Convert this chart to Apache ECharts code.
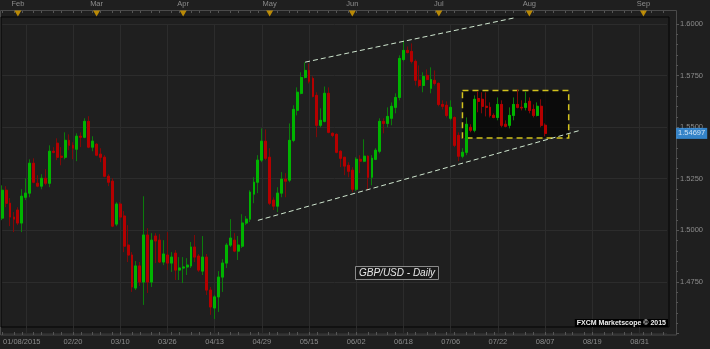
<!DOCTYPE html>
<html><head><meta charset="utf-8">
<script src="https://cdn.jsdelivr.net/npm/echarts@6/dist/echarts.min.js"></script>
<style>html,body{margin:0;padding:0;background:#1f1f1f}#c{width:710px;height:349px}</style>
</head><body><div id="c"></div>
<script>
// ---- data (GBP/USD daily, 27 Jan 2015 .. 07 Aug 2015) ----
const open = [1.5059,1.5194,1.5131,1.5064,1.5098,1.5035,1.5160,1.5180,1.5325,1.5228,1.5214,1.5252,1.5228,1.5383,1.5422,1.5359,1.5354,1.5436,1.5412,1.5393,
1.5456,1.5451,1.5528,1.5403,1.5417,1.5369,1.5354,1.5262,1.5238,1.5030,1.5127,1.5069,1.4928,1.4880,1.4720,1.4827,1.4749,1.4977,1.4749,1.4972,
1.4952,1.4846,1.4880,1.4841,1.4889,1.4807,1.4817,1.4822,1.4827,1.4919,1.4875,1.4802,1.4870,1.4710,1.4623,1.4677,1.4773,1.4841,1.4928,1.4952,
1.4899,1.4923,1.5035,1.5054,1.5175,1.5233,1.5340,1.5432,1.5354,1.5146,1.5117,1.5180,1.5248,1.5243,1.5436,1.5582,1.5664,1.5741,1.5775,1.5736,
1.5654,1.5509,1.5528,1.5664,1.5470,1.5465,1.5383,1.5354,1.5315,1.5291,1.5199,1.5344,1.5335,1.5359,1.5257,1.5344,1.5383,1.5528,1.5518,1.5543,
1.5596,1.5644,1.5828,1.5872,1.5867,1.5819,1.5727,1.5702,1.5751,1.5688,1.5727,1.5712,1.5610,1.5606,1.5543,1.5547,1.5460,1.5359,1.5378,1.5499,
1.5485,1.5639,1.5635,1.5601,1.5596,1.5557,1.5547,1.5610,1.5514,1.5509,1.5557,1.5610,1.5596,1.5596,1.5625,1.5586,1.5557,1.5601,1.5509];
const close = [1.5194,1.5131,1.5064,1.5054,1.5035,1.5165,1.5180,1.5325,1.5233,1.5214,1.5252,1.5228,1.5383,1.5378,1.5354,1.5354,1.5436,1.5412,1.5398,1.5456,
1.5451,1.5528,1.5403,1.5432,1.5364,1.5354,1.5262,1.5233,1.5020,1.5127,1.5064,1.4923,1.4880,1.4725,1.4827,1.4749,1.4977,1.4749,1.4952,1.4948,
1.4846,1.4885,1.4841,1.4870,1.4807,1.4817,1.4822,1.4831,1.4919,1.4870,1.4807,1.4870,1.4710,1.4628,1.4677,1.4773,1.4841,1.4928,1.4962,1.4899,
1.4928,1.5035,1.5054,1.5185,1.5233,1.5340,1.5432,1.5349,1.5131,1.5117,1.5180,1.5248,1.5238,1.5436,1.5586,1.5669,1.5741,1.5775,1.5722,1.5649,
1.5509,1.5533,1.5664,1.5475,1.5460,1.5378,1.5349,1.5311,1.5286,1.5199,1.5344,1.5335,1.5359,1.5257,1.5349,1.5388,1.5528,1.5518,1.5552,1.5601,
1.5644,1.5833,1.5872,1.5862,1.5819,1.5727,1.5702,1.5746,1.5731,1.5731,1.5712,1.5610,1.5601,1.5557,1.5596,1.5412,1.5359,1.5378,1.5514,1.5485,
1.5635,1.5625,1.5601,1.5596,1.5557,1.5547,1.5610,1.5509,1.5504,1.5557,1.5610,1.5596,1.5593,1.5615,1.5581,1.5557,1.5601,1.5509,1.54697];
const low = [1.5049,1.5112,1.5020,1.4991,1.5025,1.4991,1.5146,1.5160,1.5228,1.5209,1.5199,1.5218,1.5209,1.5373,1.5340,1.5315,1.5344,1.5388,1.5344,1.5335,
1.5403,1.5446,1.5398,1.5383,1.5359,1.5330,1.5257,1.5214,1.5015,1.5020,1.5049,1.4894,1.4846,1.4701,1.4710,1.4730,1.4638,1.4696,1.4725,1.4841,
1.4841,1.4831,1.4807,1.4798,1.4759,1.4759,1.4744,1.4783,1.4817,1.4846,1.4798,1.4783,1.4686,1.4590,1.4570,1.4604,1.4701,1.4817,1.4919,1.4894,
1.4856,1.4914,1.5025,1.5040,1.5131,1.5180,1.5330,1.5340,1.5122,1.5098,1.5088,1.5160,1.5160,1.5233,1.5427,1.5557,1.5659,1.5736,1.5712,1.5644,
1.5451,1.5499,1.5523,1.5470,1.5451,1.5373,1.5306,1.5267,1.5257,1.5185,1.5190,1.5277,1.5330,1.5194,1.5218,1.5340,1.5373,1.5470,1.5499,1.5509,
1.5567,1.5630,1.5819,1.5857,1.5809,1.5702,1.5693,1.5669,1.5727,1.5664,1.5702,1.5601,1.5586,1.5547,1.5533,1.5403,1.5335,1.5349,1.5364,1.5475,
1.5475,1.5572,1.5567,1.5552,1.5547,1.5543,1.5533,1.5499,1.5499,1.5494,1.5533,1.5591,1.5581,1.5581,1.5567,1.5547,1.5552,1.5499,1.5455];
const high = [1.5218,1.5214,1.5156,1.5088,1.5112,1.5199,1.5252,1.5344,1.5349,1.5267,1.5272,1.5296,1.5412,1.5403,1.5446,1.5403,1.5475,1.5465,1.5427,1.5470,
1.5475,1.5543,1.5553,1.5456,1.5422,1.5398,1.5364,1.5272,1.5252,1.5136,1.5136,1.5093,1.5025,1.4894,1.4851,1.4846,1.5165,1.5010,1.4986,1.4986,
1.4981,1.4952,1.4991,1.4894,1.4904,1.4870,1.4870,1.4865,1.4943,1.4977,1.4885,1.4972,1.4885,1.4725,1.4686,1.4802,1.4860,1.4938,1.5054,1.4986,
1.4972,1.5078,1.5069,1.5194,1.5257,1.5364,1.5494,1.5489,1.5398,1.5160,1.5209,1.5282,1.5277,1.5518,1.5606,1.5693,1.5766,1.5814,1.5809,1.5746,
1.5669,1.5591,1.5697,1.5693,1.5475,1.5470,1.5388,1.5354,1.5330,1.5306,1.5354,1.5364,1.5441,1.5364,1.5364,1.5398,1.5543,1.5543,1.5596,1.5620,
1.5664,1.5848,1.5920,1.5891,1.5906,1.5828,1.5799,1.5766,1.5780,1.5790,1.5775,1.5717,1.5630,1.5625,1.5630,1.5552,1.5475,1.5398,1.5547,1.5514,
1.5654,1.5673,1.5669,1.5669,1.5620,1.5567,1.5644,1.5630,1.5533,1.5596,1.5644,1.5683,1.5630,1.5673,1.5644,1.5610,1.5620,1.5635,1.5518];

// trend lines [categoryIndex, price]
const lowerTrend = [[65, 1.5048], [147, 1.5485]];
const upperTrend = [[77, 1.5815], [130, 1.6029]];
// consolidation box
const boxFrom = [117, 1.5678];
const boxTo = [144, 1.5447];

// axis tick labels
const monthDates = ['2015-02-02','2015-03-02','2015-04-01','2015-05-01','2015-06-01','2015-07-01','2015-08-03','2015-09-01'];
const monthNames = ['Feb','Mar','Apr','May','Jun','Jul','Aug','Sep'];
const dateTickDates = ['2015-02-04','2015-02-20','2015-03-10','2015-03-26','2015-04-13','2015-04-29','2015-05-15','2015-06-02','2015-06-18','2015-07-06','2015-07-22','2015-08-07','2015-08-19','2015-08-31'];
const dateTickLabels = ['01/08/2015','02/20','03/10','03/26','04/13','04/29','05/15','06/02','06/18','07/06','07/22','08/07','08/19','08/31'];
const yTicks = [1.45, 1.6, 0.025];

// ---- categories: trading days, then calendar days after the last bar ----
function fmt(d){return d.toISOString().slice(0,10);}
const cats = [];
let dt = new Date(Date.UTC(2015,0,27));
while (cats.length < open.length) {
  const wd = dt.getUTCDay();
  if (wd !== 0 && wd !== 6) cats.push(fmt(dt));
  dt = new Date(dt.getTime() + 86400000);
}
while (cats.length < 170) { cats.push(fmt(dt)); dt = new Date(dt.getTime() + 86400000); }

const full = open.map((o,i) => [o, close[i], low[i], high[i]]);
const bodies = open.map((o,i) => [o, close[i], Math.min(o,close[i]), Math.max(o,close[i])]);
const last = close[close.length-1];

const FONT = 'Liberation Sans';
const AX = '#8c8c8c';
const tickFn = (i) => (i*2) % 5 < 2;
const dateIdx = dateTickDates.map(d => cats.indexOf(d));
const monthIdx = monthDates.map(d => cats.indexOf(d));

const chart = echarts.init(document.getElementById('c'), null, {renderer:'canvas'});
chart.setOption({
  backgroundColor: '#1f1f1f',
  animation: false,
  title: [
    {text: 'GBP/USD - Daily', left: 355, top: 266, padding: [1,4,1,4],
     borderColor: '#8a8a8a', borderWidth: 1, backgroundColor: '#1a1a1a',
     textStyle: {color: '#e6e6e6', fontStyle: 'italic', fontWeight: 'normal', fontSize: 10, fontFamily: FONT, lineHeight: 12}},
    {text: 'FXCM Marketscope \u00a9 2015', right: 42, top: 319, padding: [0,2,0,2], backgroundColor: '#000',
     textStyle: {color: '#eeeeee', fontWeight: 'bold', fontSize: 7, fontFamily: FONT, lineHeight: 8}}
  ],
  grid: [
    {left: -0.95, width: 668, top: 23.5, height: 309.9, containLabel: false},
    {left: 0.5, top: 10.5, width: 676, height: 324.5, show: true, borderColor: '#4a4a4a', borderWidth: 1, backgroundColor: 'transparent'},
    {left: 1, top: 17, width: 668, height: 310, show: true, borderColor: '#050505', borderWidth: 1, backgroundColor: 'transparent'}
  ],
  xAxis: [
    {type: 'category', gridIndex: 0, data: cats, boundaryGap: false, position: 'bottom', offset: 1.6,
     axisLine: {show: false},
     axisTick: {show: true, inside: true, length: 3, interval: tickFn, lineStyle: {color: '#555'}},
     axisLabel: {interval: (i) => dateIdx.indexOf(i) >= 0, color: AX, fontSize: 7.5, fontFamily: FONT, margin: 3,
       formatter: (v, i) => { const k = dateTickDates.indexOf(v); if (k < 0) return ''; return k === 0 ? '{f|' + dateTickLabels[k] + '}' : dateTickLabels[k]; },
       rich: {f: {color: AX, fontSize: 7.5, fontFamily: FONT, padding: [0,8,0,0]}}},
     splitLine: {show: true, interval: (i) => dateIdx.indexOf(i) >= 0, lineStyle: {color: '#2c2c2c', width: 1}}},
    {type: 'category', gridIndex: 0, data: cats, boundaryGap: false, position: 'top', offset: 13,
     axisLine: {show: false},
     axisTick: {show: true, inside: true, length: 2, interval: tickFn, lineStyle: {color: '#555'}},
     axisLabel: {interval: (i) => monthIdx.indexOf(i) >= 0, color: AX, fontSize: 7.5, fontFamily: FONT, margin: 3,
       formatter: (v) => { const k = monthDates.indexOf(v); return k < 0 ? '' : monthNames[k]; }},
     splitLine: {show: false}},
    {type: 'category', gridIndex: 1, data: ['a'], show: false},
    {type: 'category', gridIndex: 2, data: ['a'], show: false}
  ],
  yAxis: [
    {type: 'value', gridIndex: 0, position: 'right', offset: 9, min: yTicks[0], max: yTicks[1], interval: yTicks[2],
     axisLine: {show: false},
     axisTick: {show: true, length: 3, lineStyle: {color: '#555'}},
     minorTick: {show: true, splitNumber: 5, length: 2, lineStyle: {color: '#555'}},
     axisLabel: {color: AX, fontSize: 7.5, fontFamily: FONT, margin: 4,
       formatter: (v) => v < yTicks[0] + 1e-6 ? '' : v.toFixed(4)},
     splitLine: {show: true, lineStyle: {color: '#2c2c2c', width: 1}}},
    {type: 'value', gridIndex: 1, show: false},
    {type: 'value', gridIndex: 2, show: false}
  ],
  series: [
    {type: 'line', name: 'box', data: [], z: 1, xAxisIndex: 0, yAxisIndex: 0,
     markArea: {silent: true, itemStyle: {color: 'rgba(5,5,5,0.75)', borderColor: '#d2c21c', borderWidth: 1.5, borderType: [6,4]},
       data: [[{coord: boxFrom}, {coord: boxTo}]]}},
    {type: 'candlestick', name: 'wicks', data: full, z: 2, clip: false, barWidth: 2.4,
     itemStyle: {color: '#0b7d0b', color0: '#800808', borderColor: '#0b7d0b', borderColor0: '#800808', borderWidth: 1}},
    {type: 'candlestick', name: 'bodies', data: bodies, z: 3, clip: false, barWidth: 2.4,
     itemStyle: {color: '#00b400', color0: '#b40000', borderColor: '#00b400', borderColor0: '#b40000', borderWidth: 1}},
    {type: 'line', name: 'lower', data: lowerTrend, symbol: 'none', clip: false, z: 4,
     lineStyle: {color: '#cfe6cf', width: 1, type: [5,3]}},
    {type: 'line', name: 'upper', data: upperTrend, symbol: 'none', clip: false, z: 4,
     lineStyle: {color: '#cfe6cf', width: 1, type: [5,3]}},
    {type: 'scatter', name: 'months', data: monthDates.map(d => [d, 1.6051]), symbol: 'triangle', symbolRotate: 180,
     symbolSize: [7,6], clip: false, z: 5, itemStyle: {color: '#e0a400'}},
    {type: 'scatter', name: 'last', data: [[cats[cats.length-1], last]], symbol: 'rect', symbolSize: 0.1, clip: false, z: 6,
     itemStyle: {color: 'rgba(0,0,0,0)'},
     label: {show: true, position: 'right', distance: 9, formatter: () => last.toFixed(5), backgroundColor: '#3a9cf2',
       color: '#f4f9ff', fontSize: 7.5, fontFamily: FONT, padding: [2,2,1,2]}}
  ]
});
</script></body></html>
